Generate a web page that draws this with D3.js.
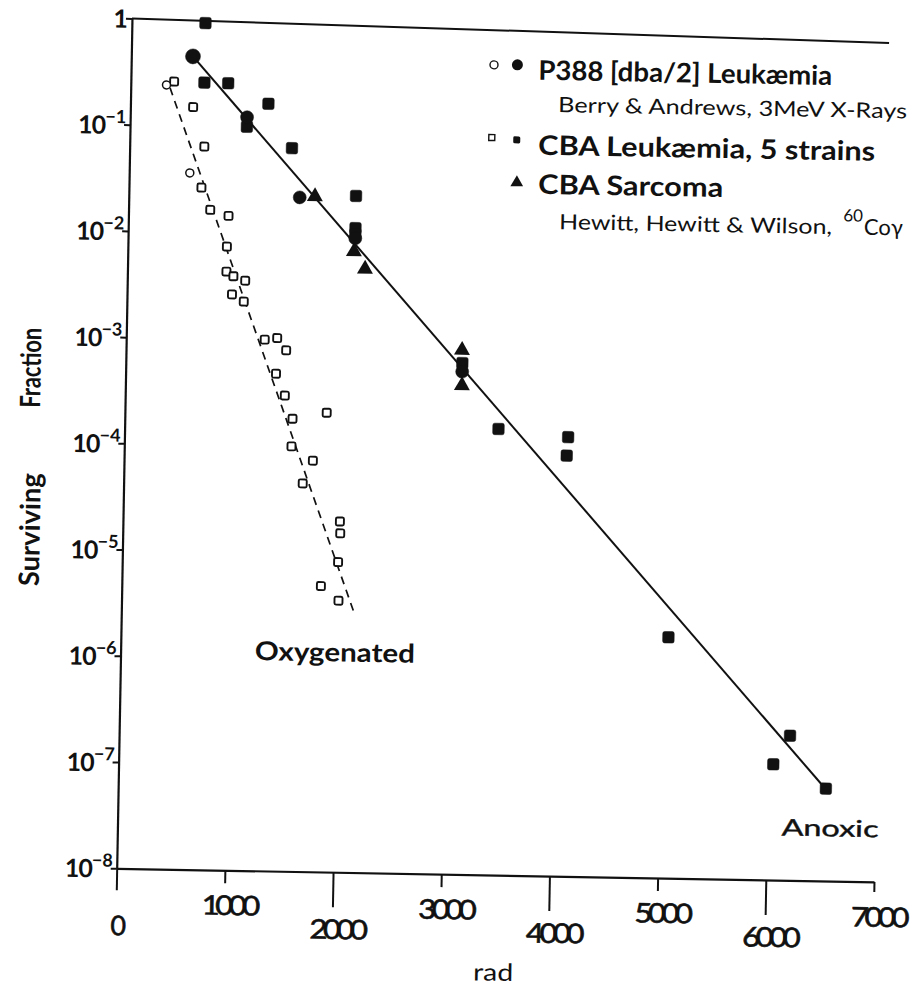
<!DOCTYPE html>
<html>
<head>
<meta charset="utf-8">
<script src="https://cdn.jsdelivr.net/npm/d3@7"></script>
<style>
  body { margin: 0; background: #fff; }
  svg { display: block; }
  text { fill: #111; }
</style>
</head>
<body>
<svg id="chart" width="916" height="988"></svg>
<script>
// ---- axis ticks ----
const doseTicks = [0, 1000, 2000, 3000, 4000, 5000, 6000, 7000];
const survivalTicks = [1, 1e-1, 1e-2, 1e-3, 1e-4, 1e-5, 1e-6, 1e-7, 1e-8];

// ---- P388 [dba/2] leukaemia ----
const p388OxicDose = [330, 560];
const p388OxicSurv = [0.24, 0.036];
const p388AnoxicDose = [570, 1080, 1580, 2100, 3110];
const p388AnoxicSurv = [0.45, 0.123, 0.0221, 0.0093, 5.4e-4];

// ---- CBA leukaemia, 5 strains ----
const cbaOxicDose = [400, 580, 690, 670, 755, 925, 915, 915, 980, 1090, 970, 1080,
  1280, 1395, 1480, 1390, 1475, 1865, 1550, 1545, 1745, 1655, 2005, 2010, 1995, 1840, 2005];
const cbaOxicSurv = [0.259, 0.150, 0.064, 0.0263, 0.0163, 0.0144, 7.4e-3, 4.3e-3, 3.9e-3, 3.56e-3,
  2.63e-3, 2.26e-3, 1.0e-3, 1.04e-3, 8.0e-4, 4.8e-4, 3.0e-4, 2.1e-4, 1.82e-4, 1.0e-4, 7.4e-5,
  4.5e-5, 2.0e-5, 1.55e-5, 8.3e-6, 4.9e-6, 3.6e-6];
const cbaAnoxicDose = [680, 680, 900, 1275, 1080, 1500, 2100, 2100, 2100, 3110, 3455, 4100, 4090,
  5060, 6200, 6050, 6540];
const cbaAnoxicSurv = [0.93, 0.256, 0.255, 0.166, 0.100, 0.064, 0.0233, 0.0116, 0.0102, 6.5e-4,
  1.58e-4, 1.36e-4, 9.1e-5, 1.85e-6, 2.3e-7, 1.23e-7, 7.4e-8];

// ---- CBA sarcoma ----
const sarcomaDose = [1720, 2090, 2195, 3105, 3110];
const sarcomaSurv = [0.0227, 0.0070, 0.0048, 8.6e-4, 4.0e-4];

// ---- fitted survival lines ----
const oxicFitDose = [363, 2150];
const oxicFitSurv = [0.226, 2.8e-6];
const anoxicFitDose = [570, 6505];
const anoxicFitSurv = [0.45, 8.0e-8];

// right-hand end of the rule drawn along the top of the frame
const topRuleEnd = 0.79;

// ---- layout ----
const ORIGIN_X = 116.7, ORIGIN_Y = 868.3, TILT = 1.03;
const PLOT_W = 757.4, PLOT_H = 850;
const FONT = "Lato, 'DejaVu Sans', sans-serif";

const svg = d3.select("#chart");
svg.append("rect").attr("width", 916).attr("height", 988).attr("fill", "#fff");

const plot = svg.append("g")
  .attr("transform", `translate(${ORIGIN_X},${ORIGIN_Y}) rotate(${TILT})`);

const x = d3.scaleLinear().domain([0, 7000]).range([0, PLOT_W]);
const y = d3.scaleLog().domain([1e-8, 1]).range([0, -PLOT_H]);

// ---- x axis: alternating short/long ticks and staggered labels ----
const isOdd = d => (d / 1000) % 2 === 1;
const tickLen = d => d === 0 ? 22 : d === 7000 ? 10 : isOdd(d) ? 13 : 35;
const labelDrop = d => (isOdd(d) || d === 7000) ? 35 : 57;

const gx = plot.append("g")
  .call(d3.axisBottom(x).tickValues(doseTicks).tickSizeOuter(0).tickFormat(d => String(d)));
gx.attr("font-family", null).attr("font-size", null);
gx.select(".domain").attr("stroke", "#111").attr("stroke-width", 2.2);
gx.selectAll(".tick line").attr("stroke", "#111").attr("stroke-width", 2).attr("y2", tickLen);
gx.selectAll(".tick text")
  .attr("y", labelDrop).attr("dy", "0.36em").attr("dx", d => d === 0 ? 0 : 4)
  .attr("fill", "#111").attr("stroke", "#111").attr("stroke-width", 0.6)
  .attr("textLength", d => d === 0 ? null : 54)
  .attr("lengthAdjust", "spacingAndGlyphs")
  .style("font-family", FONT).style("font-size", "27px").style("letter-spacing", "-4px");

// ---- y axis: powers of ten ----
const gy = plot.append("g")
  .call(d3.axisLeft(y).tickValues(survivalTicks).tickSize(6).tickSizeOuter(0).tickFormat(() => ""));
gy.attr("font-family", null).attr("font-size", null);
gy.select(".domain").attr("stroke", "#111").attr("stroke-width", 2.2);
gy.selectAll(".tick line").attr("stroke", "#111").attr("stroke-width", 2);
gy.selectAll(".tick text").each(function (d) {
  const t = d3.select(this)
    .attr("x", -4).attr("dy", null).attr("y", 9)
    .attr("text-anchor", "end").attr("fill", "#111")
    .style("font-family", FONT).style("font-weight", "700").style("font-size", "25px");
  const k = Math.round(-Math.log10(d));
  if (k === 0) { t.text("1"); return; }
  t.append("tspan").text("10").style("letter-spacing", "-1px");
  t.append("tspan").text("\u2212" + k).attr("dy", -11).style("font-size", "18px");
});

// ---- top rule of the frame ----
plot.append("line")
  .attr("x1", x(0)).attr("y1", y(1))
  .attr("x2", x(7000)).attr("y2", y(topRuleEnd))
  .attr("stroke", "#111").attr("stroke-width", 2);

// ---- fitted lines ----
const fitLine = d3.line().x(d => x(d[0])).y(d => y(d[1]));
plot.append("path")
  .attr("d", fitLine(d3.zip(oxicFitDose, oxicFitSurv)))
  .attr("fill", "none").attr("stroke", "#111").attr("stroke-width", 1.7)
  .attr("stroke-dasharray", "8,6");
plot.append("path")
  .attr("d", fitLine(d3.zip(anoxicFitDose, anoxicFitSurv)))
  .attr("fill", "none").attr("stroke", "#111").attr("stroke-width", 2);

// ---- data markers ----
const sq = (g, pts, side, filled, cls) => g.selectAll("rect." + cls).data(pts).join("rect")
  .attr("class", cls)
  .attr("x", d => x(d[0]) - side / 2).attr("y", d => y(d[1]) - side / 2)
  .attr("width", side).attr("height", side).attr("rx", filled ? 2 : 1.5)
  .attr("fill", filled ? "#111" : "#fff")
  .attr("stroke", "#111").attr("stroke-width", filled ? 0.5 : 1.9);

const circ = (g, pts, r, filled, cls) => g.selectAll("circle." + cls).data(pts).join("circle")
  .attr("class", cls)
  .attr("cx", d => x(d[0])).attr("cy", d => y(d[1])).attr("r", (d, i) => r(i))
  .attr("fill", filled ? "#111" : "#fff")
  .attr("stroke", "#111").attr("stroke-width", filled ? 0.5 : 1.5);

sq(plot, d3.zip(cbaOxicDose, cbaOxicSurv), 8, false, "cba-oxic");
circ(plot, d3.zip(p388OxicDose, p388OxicSurv), () => 4, false, "p388-oxic");
sq(plot, d3.zip(cbaAnoxicDose, cbaAnoxicSurv), 11.5, true, "cba-anoxic");
circ(plot, d3.zip(p388AnoxicDose, p388AnoxicSurv), i => i === 0 ? 7.5 : 6.5, true, "p388-anoxic");

const tri = d3.symbol().type(d3.symbolTriangle).size(110);
plot.selectAll("path.sarcoma").data(d3.zip(sarcomaDose, sarcomaSurv)).join("path")
  .attr("class", "sarcoma")
  .attr("transform", d => `translate(${x(d[0])},${y(d[1])})`)
  .attr("d", tri).attr("fill", "#111");

// ---- annotations ----
plot.append("text")
  .attr("x", x(1981)).attr("y", y(1.18e-6)).attr("dy", "0.36em")
  .attr("text-anchor", "middle").attr("textLength", 160).attr("lengthAdjust", "spacingAndGlyphs")
  .style("font-family", FONT).style("font-weight", "700").style("font-size", "26px")
  .text("Oxygenated");
plot.append("text")
  .attr("x", x(6585)).attr("y", y(3.16e-8)).attr("dy", "0.36em")
  .attr("text-anchor", "middle").attr("textLength", 97).attr("lengthAdjust", "spacingAndGlyphs")
  .attr("stroke", "#111").attr("stroke-width", 0.4)
  .style("font-family", FONT).style("font-size", "23px")
  .text("Anoxic");
plot.append("text")
  .attr("x", x(3496)).attr("y", 98).attr("dy", "0.32em")
  .attr("text-anchor", "middle").attr("textLength", 40).attr("lengthAdjust", "spacingAndGlyphs")
  .style("font-family", FONT).style("font-size", "24px")
  .text("rad");

// y-axis title, two words set apart
[["Fraction", -95, -499, 80], ["Surviving", -93, -337, 113]].forEach(([w, lx, ly, len]) => {
  plot.append("text")
    .attr("transform", `translate(${lx},${ly}) rotate(-90)`)
    .attr("dy", "0.36em").attr("text-anchor", "middle")
    .attr("textLength", len).attr("lengthAdjust", "spacingAndGlyphs")
    .style("font-family", FONT).style("font-weight", "700").style("font-size", "28px")
    .text(w);
});

// ---- legend ----
const legend = plot.append("g");
legend.append("circle").attr("cx", 362.8).attr("cy", -810.1).attr("r", 4)
  .attr("fill", "#fff").attr("stroke", "#111").attr("stroke-width", 1.4);
legend.append("circle").attr("cx", 386.2).attr("cy", -810.5).attr("r", 5.5).attr("fill", "#111");
legend.append("rect").attr("x", 358.9).attr("y", -740.4).attr("width", 6).attr("height", 6)
  .attr("fill", "#fff").attr("stroke", "#111").attr("stroke-width", 1.4);
legend.append("rect").attr("x", 383.4).attr("y", -739).attr("width", 7).attr("height", 7)
  .attr("rx", 1.5).attr("fill", "#111");
legend.append("path").attr("transform", "translate(387.7,-692.8)")
  .attr("d", d3.symbol().type(d3.symbolTriangle).size(70)).attr("fill", "#111");

const legendText = (lx, ly, size, weight, len, str) => legend.append("text")
  .attr("x", lx).attr("y", ly)
  .attr("textLength", len).attr("lengthAdjust", "spacingAndGlyphs")
  .style("font-family", FONT).style("font-size", size + "px").style("font-weight", weight)
  .text(str);

legendText(407.2, -796, 27, 700, 294, "P388 [dba/2] Leukæmia");
legendText(427.7, -764, 21, 400, 349, "Berry & Andrews, 3MeV X-Rays");
legendText(408.5, -721, 27, 700, 337, "CBA Leukæmia, 5 strains");
legendText(409.2, -682, 27, 700, 185, "CBA Sarcoma");
legendText(430.8, -647, 21, 400, 273, "Hewitt, Hewitt & Wilson,");

// isotope with its mass number raised
const isotope = legend.append("text").attr("x", 714.8).attr("y", -647)
  .style("font-family", FONT).style("font-size", "22px");
isotope.append("tspan").text("60").attr("dy", -13).style("font-size", "17px");
isotope.append("tspan").text("Coγ").attr("dy", 13).attr("dx", 1);
</script>
</body>
</html>
